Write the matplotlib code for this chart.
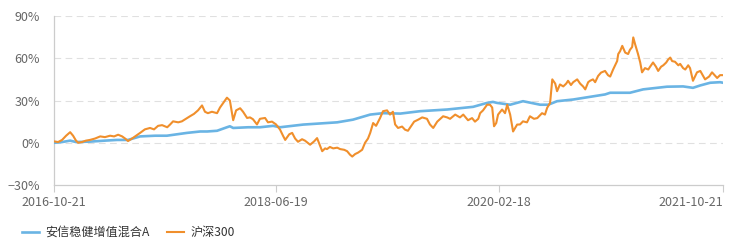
import matplotlib
matplotlib.use("Agg")
import matplotlib.pyplot as plt
import pandas as pd

plt.rcParams['font.family'] = ['Noto Sans CJK SC', 'DejaVu Sans']

# days since 2016-10-21 and cumulative return (%)
fund_days = [0, 22, 44, 60, 98, 139, 172, 202, 235, 276, 308, 363, 399, 418, 445,
             472, 480, 489, 530, 562, 598, 617, 680, 773, 816, 863, 898, 945, 999,
             1073, 1144, 1182, 1198, 1209, 1245, 1280, 1327, 1349, 1373, 1417, 1463,
             1504, 1518, 1572, 1608, 1673, 1717, 1744, 1764, 1791, 1818, 1826]
fund_ret = [0, 0.5, 1.5, 0.5, 0.8, 1.5, 2, 2, 4.5, 5, 5, 7, 8, 8, 8.5,
            11, 11.7, 10.5, 11, 11, 12, 11, 12.9, 14.5, 16.4, 20, 21, 20.7, 22.4,
            23.6, 25.5, 28.3, 29, 28.3, 27, 29.5, 27, 27, 29.5, 30.7, 32.6,
            34.3, 35.5, 35.5, 37.9, 39.8, 40, 39, 40.7, 42.6, 43, 42.6]

hs300_days = [0, 11, 22, 33, 44, 52, 60, 66, 76, 87, 98, 112, 126, 139, 153, 164,
              175, 186, 194, 202, 213, 224, 235, 248, 262, 273, 284, 295, 309, 317,
              325, 339, 349, 360, 371, 382, 393, 404, 412, 420, 431, 445, 453, 464,
              472, 480, 489, 497, 508, 516, 527, 535, 543, 554, 562, 576, 584, 595,
              606, 617, 625, 631, 642, 650, 658, 666, 677, 685, 699, 710, 718, 726,
              732, 740, 745, 753, 762, 773, 781, 792, 800, 808, 814, 822, 830, 841,
              849, 857, 863, 871, 879, 890, 898, 909, 917, 925, 931, 939, 950, 958,
              966, 975, 983, 994, 1005, 1018, 1026, 1035, 1046, 1062, 1073, 1081,
              1095, 1108, 1117, 1130, 1141, 1149, 1158, 1163, 1171, 1182, 1190, 1196,
              1201, 1207, 1212, 1223, 1231, 1237, 1245, 1253, 1264, 1272, 1280, 1291,
              1299, 1310, 1319, 1332, 1340, 1346, 1354, 1360, 1368, 1373, 1381, 1390,
              1398, 1403, 1411, 1417, 1428, 1436, 1444, 1450, 1458, 1463, 1471, 1477,
              1485, 1493, 1504, 1512, 1518, 1526, 1537, 1540, 1545, 1551, 1559, 1567,
              1572, 1578, 1581, 1586, 1594, 1600, 1605, 1613, 1622, 1627, 1635, 1643,
              1649, 1657, 1663, 1671, 1676, 1682, 1687, 1695, 1704, 1709, 1717, 1723,
              1731, 1736, 1744, 1755, 1764, 1777, 1788, 1796, 1810, 1818, 1826]
hs300_ret = [1, 0.5, 2, 5, 7.5, 5, 1.5, 0, 0.5, 1.5, 2, 3, 4.5, 4, 5, 4.5,
             5.7, 4.5, 3, 1.2, 3, 5, 7, 9.5, 10.5, 9.5, 12, 12.5, 11, 13,
             15.2, 14.5, 15.2, 17, 18.8, 20.5, 23, 26.5, 22, 21, 22, 21, 25, 29,
             32, 30, 16, 23, 24.5, 22, 17.6, 18, 16.7, 13, 17, 17.6, 14.5, 15,
             13, 9.3, 5, 2, 6, 7, 3, 0.7, 2.5, 1.5, -1.4, 1, 3.3, -2,
             -6, -4, -4.5, -3, -4, -3.5, -4.5, -5, -6, -8.5, -9.8, -8, -7, -5,
             0, 3, 7, 14, 12, 17.6, 22.4, 23, 20, 22, 13, 10.5, 11.5, 9.3,
             8.5, 12, 15, 16.4, 18, 17, 13, 10.5, 15, 18.8, 18, 17,
             20, 18, 20, 16, 17.5, 15, 17, 21, 23, 27, 27, 25,
             11.7, 14, 20, 23.6, 21, 27, 20, 8, 12.9, 13, 15.2, 14.5,
             18.8, 17, 17.5, 21, 20, 24.8, 28.3, 45, 42, 36.6, 41.4, 40,
             42, 44, 41, 43, 45, 42, 40, 37.9, 43, 44, 45, 43,
             47.4, 49.8, 51, 48, 47, 52, 58, 63, 65, 68.8, 64, 63,
             66, 68, 74.8, 70, 63, 57, 50, 53, 52, 54, 57, 54,
             51, 54, 55, 57, 59, 60.5, 58, 57.5, 55, 56, 53, 52,
             55, 53, 44, 50, 51, 45, 47, 50, 46, 48, 48]

tick_labels = ["2016-10-21", "2018-06-19", "2020-02-18", "2021-10-21"]
y_ticks = [-30, 0, 30, 60, 90]

start = pd.Timestamp(tick_labels[0])
tick_pos = [(pd.Timestamp(t) - start).days for t in tick_labels]

fig = plt.figure(figsize=(7.38, 2.5), dpi=100)
ax = fig.add_axes([0.0732, 0.26, 0.9065, 0.676])

ax.plot(fund_days, fund_ret, color="#6ab4e4", lw=1.9, label="安信稳健增值混合A", zorder=3)
ax.plot(hs300_days, hs300_ret, color="#f08f2c", lw=1.5, label="沪深300", zorder=4)

ax.set_xlim(tick_pos[0], tick_pos[-1])
ax.set_ylim(-30, 90)
ax.set_yticks(y_ticks)
ax.set_yticklabels([f"{v}%".replace("-", "\u2212") for v in y_ticks])
ax.set_xticks(tick_pos)
ax.set_xticklabels(tick_labels)
ax.get_xticklabels()[-1].set_ha("right")

for v in y_ticks[1:]:
    ax.axhline(v, color="#e0e0e0", lw=0.8, ls=(0, (6, 4)), zorder=1)

for s in ["top", "right"]:
    ax.spines[s].set_visible(False)
for s in ["left", "bottom"]:
    ax.spines[s].set_color("#cccccc")
    ax.spines[s].set_linewidth(0.9)

ax.tick_params(axis="y", length=0, pad=10, labelsize=9, labelcolor="#666666")
ax.tick_params(axis="x", length=5, width=0.8, color="#cccccc", pad=3,
               labelsize=9, labelcolor="#666666")

fig.legend(loc="lower left", bbox_to_anchor=(0.015, 0.0), ncol=2, frameon=False,
           fontsize=8.7, handlelength=1.4, handletextpad=0.5, columnspacing=1.5,
           labelcolor="#333333")

fig.savefig("out.png", dpi=100)
